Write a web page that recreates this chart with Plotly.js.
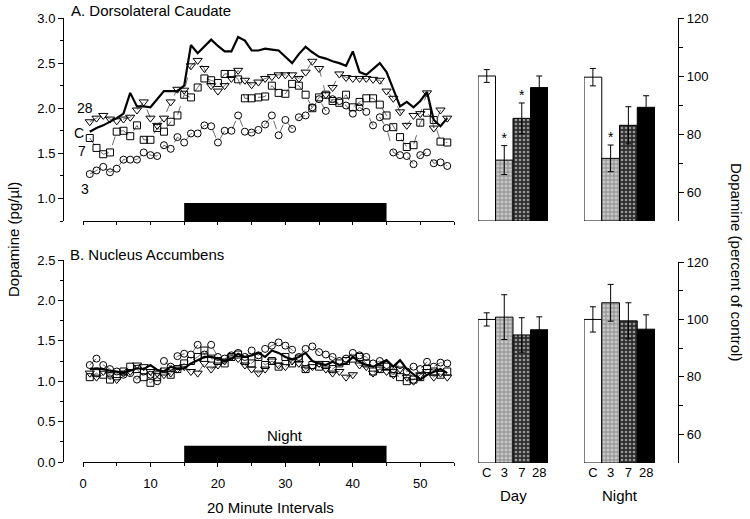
<!DOCTYPE html>
<html><head><meta charset="utf-8">
<script src="https://cdn.plot.ly/plotly-3.0.1.min.js"></script>
<style>html,body{margin:0;padding:0;background:#fff}#chart{width:750px;height:519px}</style>
</head><body><div id="chart"></div>
<script>
// 20-minute intervals
const intervals = [1,2,3,4,5,6,7,8,9,10,11,12,13,14,15,16,17,18,19,20,21,22,23,24,25,26,27,28,29,30,31,32,33,34,35,36,37,38,39,40,41,42,43,44,45,46,47,48,49,50,51,52,53,54];
const nightPeriod = [15, 45];

// A. Dorsolateral Caudate (pg/ul)
const caudC  = [1.74,1.78,1.81,1.85,1.89,1.94,2.17,2.02,2.02,2.01,2.10,2.19,2.19,2.19,2.25,2.70,2.61,2.68,2.76,2.69,2.63,2.63,2.79,2.75,2.64,2.64,2.66,2.65,2.64,2.57,2.50,2.60,2.68,2.62,2.57,2.55,2.52,2.50,2.47,2.63,2.40,2.37,2.44,2.50,2.40,2.20,2.02,2.07,2.01,2.08,2.18,1.87,1.80,1.89];
const caud28 = [1.85,1.89,1.92,1.88,1.86,1.88,1.90,1.98,2.07,1.89,1.81,1.89,2.07,2.21,2.20,2.47,2.53,2.44,2.25,2.19,2.25,2.33,2.42,2.31,2.26,2.29,2.33,2.35,2.37,2.37,2.37,2.33,2.40,2.52,2.44,2.15,2.23,2.38,2.34,2.33,2.33,2.33,2.32,2.31,2.19,2.11,1.96,1.81,1.92,1.94,2.17,1.78,1.98,1.89];
const caud7  = [1.67,1.56,1.49,1.51,1.74,1.75,1.69,1.81,1.65,1.65,1.78,1.74,1.85,1.92,2.15,2.12,2.23,2.33,2.31,2.28,2.38,2.38,2.32,2.11,2.11,2.12,2.13,2.25,2.17,2.16,2.27,2.25,2.15,2.00,2.12,2.15,2.08,2.06,2.15,2.01,2.07,2.11,2.11,2.04,1.92,1.79,1.68,1.57,1.59,1.84,1.95,1.87,1.63,1.62];
const caud3  = [1.27,1.31,1.35,1.29,1.33,1.43,1.43,1.43,1.51,1.48,1.47,1.59,1.55,1.68,1.62,1.72,1.72,1.81,1.80,1.62,1.75,1.75,1.92,1.74,1.73,1.76,1.82,1.92,1.70,1.87,1.77,1.90,1.92,2.01,2.10,1.97,2.10,2.08,2.03,1.94,2.01,1.96,1.81,1.90,1.78,1.51,1.48,1.47,1.38,1.48,1.51,1.39,1.40,1.36];

// B. Nucleus Accumbens (pg/ul)
const accC  = [1.15,1.16,1.15,1.13,1.12,1.10,1.13,1.16,1.15,1.20,1.14,1.12,1.18,1.15,1.16,1.22,1.26,1.30,1.30,1.28,1.25,1.28,1.34,1.30,1.32,1.35,1.30,1.38,1.35,1.30,1.27,1.30,1.35,1.25,1.22,1.20,1.24,1.20,1.22,1.30,1.24,1.20,1.18,1.22,1.26,1.18,1.26,1.15,1.08,1.02,1.08,1.12,1.15,1.10];
const acc28 = [1.10,1.05,1.12,1.08,1.02,1.10,1.12,1.20,1.18,1.12,1.10,1.08,1.10,1.15,1.18,1.12,1.10,1.22,1.15,1.20,1.25,1.30,1.28,1.20,1.15,1.10,1.15,1.25,1.20,1.18,1.25,1.22,1.15,1.18,1.22,1.15,1.10,1.12,1.05,1.08,1.20,1.18,1.10,1.15,1.12,1.08,1.15,1.05,1.00,1.08,1.12,1.05,1.10,1.05];
const acc7  = [1.05,1.10,1.08,1.02,1.06,1.12,1.18,1.15,1.05,0.98,1.05,1.12,1.08,1.15,1.22,1.25,1.30,1.38,1.28,1.25,1.22,1.30,1.33,1.25,1.22,1.30,1.20,1.25,1.18,1.30,1.22,1.28,1.15,1.20,1.18,1.20,1.15,1.22,1.25,1.28,1.30,1.22,1.12,1.15,1.18,1.10,1.05,1.00,1.02,1.05,1.15,1.12,1.08,1.12];
const acc3  = [1.20,1.28,1.20,1.15,1.12,1.08,1.10,1.02,1.12,1.08,1.00,1.25,1.18,1.31,1.34,1.33,1.45,1.33,1.45,1.30,1.28,1.32,1.35,1.30,1.38,1.32,1.40,1.44,1.48,1.44,1.39,1.30,1.40,1.43,1.36,1.33,1.30,1.25,1.28,1.35,1.32,1.30,1.22,1.25,1.20,1.15,1.20,1.12,1.18,1.15,1.24,1.18,1.23,1.22];

// Bar summaries (percent of control)
const groups = ['C','3','7','28'];
const caudDay = [100, 71.0, 85.4, 96.0];
const caudDayErr = [2.2, 5.0, 5.3, 4.0];
const caudNight = [99.6, 71.6, 83.0, 89.2];
const caudNightErr = [3.0, 4.6, 6.4, 4.0];
const accDay = [100, 100.8, 94.6, 96.4];
const accDayErr = [2.3, 7.8, 6.0, 4.5];
const accNight = [100, 105.8, 99.5, 96.6];
const accNightErr = [4.4, 6.4, 6.3, 5.0];
// significance markers (indices into groups)
const starsCaudDay = [1, 2];
const starsCaudNight = [1];

const FONT = 'Liberation Sans, Arial, sans-serif';
const W = 750, H = 519;
const px = v => v / W, py = v => 1 - v / H;

function series(x, y, xa, ya, sym, size) {
  return {type:'scatter', mode:'lines+markers', x:x, y:y, xaxis:xa, yaxis:ya,
    line:{color:'#444', width:0.8, dash:'dash'},
    marker:{symbol:sym, size:size, color:'black', line:{color:'black', width:1}},
    cliponaxis:false, hoverinfo:'skip'};
}
function cLine(x, y, xa, ya) {
  return {type:'scatter', mode:'lines', x:x, y:y, xaxis:xa, yaxis:ya,
    line:{color:'black', width:2.2}, hoverinfo:'skip'};
}
const barMarker = {
  color:['white','#c8c8c8','#2e2e2e','black'],
  line:{color:'black', width:1},
  pattern:{shape:['','+','.',''], fgcolor:['black','#111','#8a8a8a','black'],
    size:[5,4,4,5], solidity:[0,0.4,0.35,0], fillmode:'overlay'}
};
function bars(vals, errs, xa, ya) {
  return {type:'bar', x:groups, y:vals.map(v => v - 50), base:50, xaxis:xa, yaxis:ya,
    marker:barMarker,
    error_y:{type:'data', array:errs, visible:true, color:'black', thickness:1, width:3},
    hoverinfo:'skip'};
}
function stars(vals, errs, idxs, xa, ya) {
  return {type:'scatter', mode:'text', x:idxs.map(i => groups[i]), y:idxs.map(i => vals[i] + errs[i] + 2.2),
    text:idxs.map(() => '*'), textposition:'middle center', xaxis:xa, yaxis:ya,
    textfont:{family:FONT, size:14, color:'black'}, cliponaxis:false, hoverinfo:'skip'};
}

const data = [
  series(intervals, caud3, 'x', 'y', 'circle-open', 7),
  series(intervals, caud7, 'x', 'y', 'square-open', 7),
  series(intervals, caud28, 'x', 'y', 'triangle-down-open', 8),
  cLine(intervals, caudC, 'x', 'y'),
  series(intervals, acc3, 'x2', 'y2', 'circle-open', 7),
  series(intervals, acc7, 'x2', 'y2', 'square-open', 7),
  series(intervals, acc28, 'x2', 'y2', 'triangle-down-open', 8),
  cLine(intervals, accC, 'x2', 'y2'),
  bars(caudDay, caudDayErr, 'x3', 'y3'),
  bars(caudNight, caudNightErr, 'x4', 'y3'),
  bars(accDay, accDayErr, 'x5', 'y4'),
  bars(accNight, accNightErr, 'x6', 'y4'),
  stars(caudDay, caudDayErr, starsCaudDay, 'x3', 'y3'),
  stars(caudNight, caudNightErr, starsCaudNight, 'x4', 'y3')
];

const tickFont = {family:FONT, size:13, color:'black'};
const leftX = {range:[0,55], showgrid:false, zeroline:false, showline:true, linecolor:'black', linewidth:1.2,
  ticks:'outside', ticklen:4, tickcolor:'black', tickfont:tickFont, fixedrange:true};
const leftY = {showgrid:false, zeroline:false, showline:true, linecolor:'black', linewidth:1.2,
  ticks:'outside', ticklen:5, tickcolor:'black', tickfont:tickFont, tickformat:'.1f', dtick:0.5,
  anchor:'free', position:px(63), minor:{dtick:0.25, ticks:'outside', ticklen:3, tickcolor:'black'}};
const barX = {type:'category', range:[-0.5,3.5], showgrid:false, zeroline:false, showline:false,
  ticks:'', tickfont:tickFont, fixedrange:true};
const barY = {range:[50,120], showgrid:false, zeroline:false, showline:true, linecolor:'black', linewidth:1.2,
  ticks:'outside', ticklen:5, tickcolor:'black', tickfont:tickFont, tickvals:[60,80,100,120],
  side:'right', anchor:'free', position:px(678),
  minor:{tickvals:[70,90,110], ticks:'outside', ticklen:4, tickcolor:'black'}};

const topDom = [py(221), py(18)];
const botDom = [py(462), py(260)];
const barTopDom = [py(221), py(18)];
const barBotDom = [py(463), py(262)];
const dayDom = [px(478), px(548)];
const nightDom = [px(584), px(655)];
const leftDom = [px(83), px(454)];

const annotations = [];
function ann(text, x, y, opts) {
  annotations.push(Object.assign({text:text, x:x, y:y, xref:'paper', yref:'paper', showarrow:false,
    font:{family:FONT, size:15, color:'black'}}, opts || {}));
}
ann('A. Dorsolateral Caudate', px(69), py(11), {xanchor:'left', yanchor:'middle'});
ann('B. Nucleus Accumbens', px(68), py(254), {xanchor:'left', yanchor:'middle'});
ann('Dopamine (pg/µl)', px(13), py(240), {textangle:-90, xanchor:'center', yanchor:'middle'});
ann('Dopamine (percent of control)', px(737), py(262), {textangle:90, xanchor:'center', yanchor:'middle'});
ann('20 Minute Intervals', px(270), py(507), {xanchor:'center', yanchor:'middle'});
ann('Day', px(513), py(495), {xanchor:'center', yanchor:'middle'});
ann('Night', px(620), py(495), {xanchor:'center', yanchor:'middle'});
ann('Night', px(285), py(435), {xanchor:'center', yanchor:'middle'});
// series labels
const lblFont = {family:FONT, size:14, color:'black'};
ann('28', px(85), py(108), {xanchor:'center', yanchor:'middle', font:lblFont});
ann('C', px(79), py(133), {xanchor:'center', yanchor:'middle', font:lblFont});
ann('7', px(82), py(151), {xanchor:'center', yanchor:'middle', font:lblFont});
ann('3', px(85), py(189), {xanchor:'center', yanchor:'middle', font:lblFont});

const shapes = [
  {type:'rect', xref:'x', yref:'y', x0:nightPeriod[0], x1:nightPeriod[1], y0:0.75, y1:0.95, fillcolor:'black', line:{width:0}, layer:'above'},
  {type:'rect', xref:'x2', yref:'y2', x0:nightPeriod[0], x1:nightPeriod[1], y0:0, y1:0.2, fillcolor:'black', line:{width:0}, layer:'above'}
];

const layout = {
  width:W, height:H, margin:{l:0,r:0,t:0,b:0}, showlegend:false,
  paper_bgcolor:'white', plot_bgcolor:'white', bargap:0,
  font:{family:FONT, color:'black'},
  xaxis: Object.assign({}, leftX, {domain:leftDom, anchor:'y', showticklabels:false, dtick:5, ticklen:3}),
  yaxis: Object.assign({}, leftY, {domain:topDom, range:[0.75,3.0], tick0:1.0}),
  xaxis2: Object.assign({}, leftX, {domain:leftDom, anchor:'y2', dtick:10, tick0:0, ticklabelstandoff:5,
    minor:{dtick:5, ticks:'outside', ticklen:3, tickcolor:'black'}}),
  yaxis2: Object.assign({}, leftY, {domain:botDom, range:[0,2.5], tick0:0}),
  xaxis3: Object.assign({}, barX, {domain:dayDom, anchor:'y3', showticklabels:false}),
  xaxis4: Object.assign({}, barX, {domain:nightDom, anchor:'y3', showticklabels:false}),
  xaxis5: Object.assign({}, barX, {domain:dayDom, anchor:'y4'}),
  xaxis6: Object.assign({}, barX, {domain:nightDom, anchor:'y4'}),
  yaxis3: Object.assign({}, barY, {domain:barTopDom}),
  yaxis4: Object.assign({}, barY, {domain:barBotDom}),
  annotations:annotations, shapes:shapes
};

Plotly.newPlot('chart', data, layout, {staticPlot:true, displayModeBar:false});
</script>
</body></html>
